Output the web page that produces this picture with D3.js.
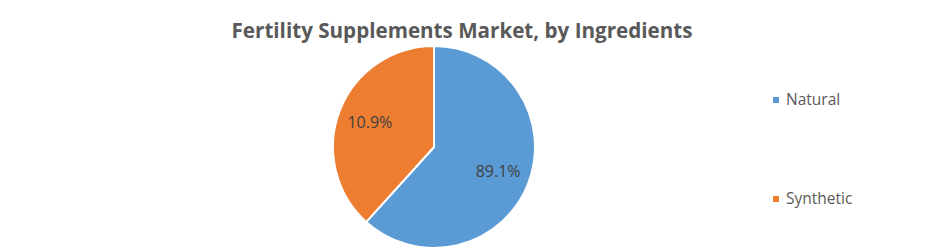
<!DOCTYPE html>
<html lang="en">
<head>
  <meta charset="UTF-8" />
  <title>Fertility Supplements Market, by Ingredients</title>
  <style>
    body { margin: 0; background: #fff; }
  </style>
  <script src="https://d3js.org/d3.v7.min.js"></script>
</head>
<body>
  <script>
    // slice sizes as drawn in the picture, labels as printed on it
    const categories = ["Natural", "Synthetic"];
    const sliceValues = [61.7, 38.3];
    const sliceLabels = ["89.1%", "10.9%"];
    const colors = ["#5B9BD5", "#ED7D31"];

    const width = 925, height = 250;
    const cx = 434, cy = 147, radius = 101;

    const svg = d3.select("body").append("svg")
      .attr("width", width)
      .attr("height", height);

    const title = svg.append("text")
      .attr("x", 462)
      .attr("y", 38)
      .attr("text-anchor", "middle")
      .attr("font-family", "'Open Sans', sans-serif")
      .attr("font-weight", "bold")
      .attr("font-size", 20)
      .attr("fill", "#595959")
      .text("Fertility Supplements Market, by Ingredients");
    // squeeze to the reference width
    const tw = title.node().getComputedTextLength();
    title.attr("font-size", 20 * 461 / tw);

    const data = categories.map((c, i) => ({ name: c, value: sliceValues[i], label: sliceLabels[i], color: colors[i] }));

    const pie = d3.pie().sort(null).value(d => d.value);
    const arc = d3.arc().innerRadius(0).outerRadius(radius);
    const labelArc = d3.arc().innerRadius(radius * 0.68).outerRadius(radius * 0.68);

    const g = svg.append("g").attr("transform", `translate(${cx},${cy})`);
    const arcs = pie(data);

    g.selectAll("path")
      .data(arcs)
      .enter()
      .append("path")
      .attr("d", arc)
      .attr("fill", d => d.data.color)
      .attr("stroke", "#fff")
      .attr("stroke-width", 2);

    g.selectAll("text")
      .data(arcs)
      .enter()
      .append("text")
      .attr("transform", d => `translate(${labelArc.centroid(d)})`)
      .attr("text-anchor", "middle")
      .attr("dy", "0.35em")
      .attr("font-family", "'Open Sans', sans-serif")
      .attr("font-size", 16)
      .attr("fill", "#404040")
      .text(d => d.data.label);

    const legendY = d3.scalePoint().domain(categories).range([100, 199]);
    const legend = svg.append("g").selectAll("g")
      .data(data)
      .enter()
      .append("g")
      .attr("transform", d => `translate(773,${legendY(d.name)})`);

    legend.append("rect")
      .attr("x", 0)
      .attr("y", -3)
      .attr("width", 6)
      .attr("height", 6)
      .attr("fill", d => d.color);

    legend.append("text")
      .attr("x", 13)
      .attr("dy", "0.35em")
      .attr("font-family", "'Open Sans', sans-serif")
      .attr("font-size", 15.5)
      .attr("fill", "#595959")
      .text(d => d.name);
  </script>
</body>
</html>
